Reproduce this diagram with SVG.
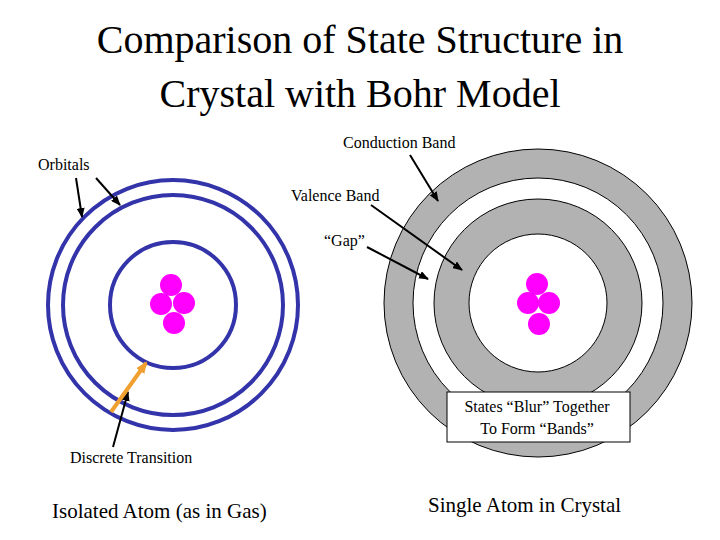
<svg xmlns="http://www.w3.org/2000/svg" width="720" height="540" viewBox="0 0 720 540" font-family="'Liberation Serif','Times New Roman','DejaVu Serif',serif">
<style>
text{font-family:'Liberation Serif','Times New Roman','DejaVu Serif',serif;fill:#000}
.lab{font-size:16px}
.orb{fill:none;stroke:#3333aa;stroke-width:4}
.band{fill:#b2b2b2;stroke:#000;stroke-width:1}
.hole{fill:#fff;stroke:#000;stroke-width:1}
.nuc{fill:#ff00ff}
.ptr{stroke:#000;stroke-width:2;fill:none;marker-end:url(#ah)}
</style>
<defs>
<marker id="ah" markerWidth="10" markerHeight="8" refX="9" refY="4" orient="auto" markerUnits="userSpaceOnUse"><path d="M0,0 L10,4 L0,8 Z" fill="#000"/></marker>
<marker id="oh" markerWidth="12" markerHeight="10" refX="10" refY="5" orient="auto" markerUnits="userSpaceOnUse"><path d="M0,0 L12,5 L0,10 Z" fill="#f0a030"/></marker>
</defs>
<rect width="720" height="540" fill="#fff"/>
<g id="title"><text x="360" y="53" font-size="40" text-anchor="middle">Comparison of State Structure in</text>
<text x="360" y="107" font-size="40" text-anchor="middle">Crystal with Bohr Model</text></g>
<g id="isolated-atom">
<circle class="orb" cx="173" cy="305" r="125"/>
<circle class="orb" cx="173" cy="305" r="110"/>
<circle class="orb" cx="173" cy="305" r="63"/>
<circle class="nuc" cx="171" cy="285" r="11"/>
<circle class="nuc" cx="161" cy="304" r="11"/>
<circle class="nuc" cx="184" cy="303" r="11"/>
<circle class="nuc" cx="174" cy="323" r="11"/>
</g>
<g id="crystal-atom">
<circle class="band" cx="538" cy="303" r="154"/>
<circle class="hole" cx="538" cy="303" r="125"/>
<circle class="band" cx="538" cy="303" r="104"/>
<circle class="hole" cx="538" cy="303" r="69"/>
<circle class="nuc" cx="537" cy="284" r="11"/>
<circle class="nuc" cx="528" cy="303" r="11"/>
<circle class="nuc" cx="549" cy="303" r="11"/>
<circle class="nuc" cx="539" cy="324" r="11"/>
</g>
<g id="blur-box"><rect x="447" y="392" width="183" height="50" fill="#fff" stroke="#000" stroke-width="1"/>
<text class="lab" x="537" y="412" text-anchor="middle">States “Blur” Together</text>
<text class="lab" x="537" y="434" text-anchor="middle">To Form “Bands”</text></g>
<g id="labels">
<text class="lab" x="38" y="170">Orbitals</text>
<text class="lab" x="343" y="148">Conduction Band</text>
<text class="lab" x="291" y="201">Valence Band</text>
<text class="lab" x="324" y="246">“Gap”</text>
<text class="lab" x="70" y="463">Discrete Transition</text>
<text x="52" y="518" font-size="21">Isolated Atom (as in Gas)</text>
<text x="428" y="512" font-size="21">Single Atom in Crystal</text>
</g>
<g id="connectors">
<line class="ptr" x1="76" y1="178" x2="82" y2="217"/>
<line class="ptr" x1="96" y1="178" x2="120" y2="205"/>
<line class="ptr" x1="410" y1="155" x2="438" y2="201"/>
<line class="ptr" x1="371" y1="205" x2="462" y2="270"/>
<line class="ptr" x1="367" y1="247" x2="428" y2="279"/>
<line class="ptr" x1="113" y1="447" x2="128" y2="392"/>
<line x1="111" y1="412" x2="146" y2="363" stroke="#f0a030" stroke-width="4" marker-end="url(#oh)"/>
</g>
</svg>
